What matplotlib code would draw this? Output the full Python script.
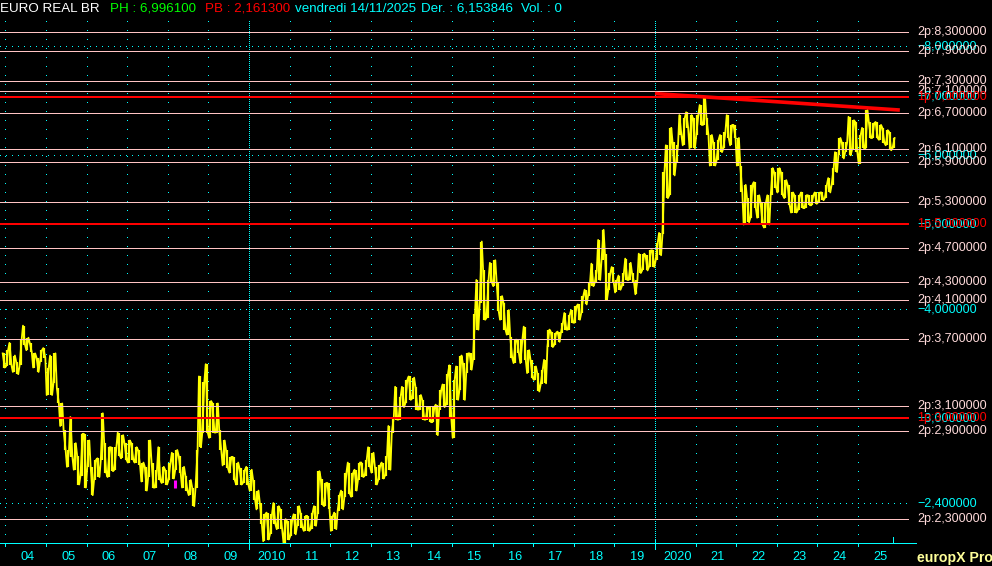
import matplotlib
matplotlib.use("Agg")
import matplotlib.pyplot as plt
import matplotlib.transforms as mtransforms
import numpy as np

W, H = 992, 566
BG = "black"
CYAN = "#00ffff"
YELLOW = "#ffff00"
PINK = "#ffc4c4"
PINK_TXT = "#ffdada"
RED = "#ff0000"
plt.rcParams["font.family"] = ["Liberation Sans", "DejaVu Sans"]

# monthly high / low of EUR/BRL, first month = Dec 2003
START = 2003 + 11 / 12
high = [3.56,
        3.59, 3.66, 3.54, 3.48, 3.69, 3.83, 3.71, 3.66, 3.56, 3.52, 3.59, 3.61,   # 2004
        3.43, 3.54, 3.56, 3.25, 3.12, 2.91, 2.76, 3.01, 2.81, 2.72, 2.88, 2.88,   # 2005
        2.83, 2.64, 2.69, 2.70, 3.04, 2.81, 2.78, 2.78, 2.78, 2.89, 2.87, 2.81,   # 2006
        2.83, 2.81, 2.78, 2.76, 2.67, 2.64, 2.83, 2.67, 2.62, 2.78, 2.64, 2.62,   # 2007
        2.67, 2.74, 2.76, 2.72, 2.64, 2.58, 2.55, 2.50, 2.76, 3.35, 3.30, 3.46,   # 2008
        3.14, 3.12, 3.12, 2.91, 2.83, 2.76, 2.71, 2.71, 2.67, 2.63, 2.62, 2.64,   # 2009
        2.62, 2.55, 2.48, 2.40, 2.33, 2.34, 2.33, 2.40, 2.38, 2.36, 2.30, 2.29,   # 2010
        2.30, 2.33, 2.38, 2.34, 2.32, 2.32, 2.34, 2.38, 2.61, 2.56, 2.53, 2.53,   # 2011
        2.32, 2.34, 2.45, 2.48, 2.60, 2.67, 2.60, 2.62, 2.67, 2.67, 2.69, 2.78,   # 2012
        2.74, 2.64, 2.65, 2.67, 2.72, 2.94, 3.01, 3.26, 3.17, 3.26, 3.32, 3.35,   # 2013
        3.34, 3.26, 3.19, 3.15, 3.09, 3.09, 3.09, 3.11, 3.23, 3.28, 3.37, 3.45,   # 2014
        3.32, 3.44, 3.54, 3.47, 3.56, 3.56, 3.95, 4.32, 4.78, 4.43, 4.32, 4.52,   # 2015
        4.55, 4.29, 4.14, 4.07, 3.99, 3.72, 3.69, 3.69, 3.69, 3.82, 3.59, 3.50,   # 2016
        3.44, 3.38, 3.41, 3.50, 3.79, 3.77, 3.76, 3.77, 3.86, 3.96, 3.94, 3.99,   # 2017
        4.03, 4.05, 4.14, 4.21, 4.29, 4.51, 4.43, 4.80, 4.93, 4.63, 4.40, 4.47,   # 2018
        4.32, 4.37, 4.40, 4.57, 4.52, 4.40, 4.32, 4.63, 4.63, 4.61, 4.67, 4.67,   # 2019
        4.76, 4.89, 5.74, 6.16, 6.45, 6.21, 6.16, 6.67, 6.62, 6.72, 6.67, 6.62,   # 2020
        6.67, 6.85, 6.99, 6.62, 6.33, 6.21, 6.25, 6.33, 6.38, 6.67, 6.50, 6.50,   # 2021
        6.28, 5.84, 5.55, 5.36, 5.55, 5.59, 5.40, 5.30, 5.30, 5.40, 5.80, 5.74,   # 2022
        5.80, 5.74, 5.62, 5.55, 5.44, 5.40, 5.40, 5.44, 5.40, 5.40, 5.40, 5.44,   # 2023
        5.44, 5.44, 5.55, 5.65, 5.80, 6.05, 6.28, 6.21, 6.21, 6.64, 6.58, 6.55,   # 2024
        6.33, 6.45, 6.76, 6.55, 6.53, 6.55, 6.50, 6.45, 6.41, 6.38, 6.28]         # 2025
low = [3.43,
       3.44, 3.45, 3.39, 3.37, 3.45, 3.64, 3.59, 3.57, 3.43, 3.39, 3.48, 3.52,
       3.19, 3.19, 3.29, 3.12, 2.94, 2.76, 2.64, 2.71, 2.62, 2.52, 2.58, 2.50,
       2.64, 2.45, 2.55, 2.57, 2.69, 2.60, 2.57, 2.61, 2.62, 2.72, 2.70, 2.69,
       2.67, 2.69, 2.67, 2.65, 2.54, 2.48, 2.57, 2.50, 2.50, 2.55, 2.53, 2.52,
       2.55, 2.56, 2.62, 2.60, 2.50, 2.48, 2.45, 2.38, 2.50, 2.78, 2.89, 2.89,
       2.85, 2.89, 2.89, 2.76, 2.65, 2.63, 2.60, 2.55, 2.52, 2.52, 2.53, 2.52,
       2.48, 2.42, 2.36, 2.27, 2.17, 2.18, 2.21, 2.27, 2.24, 2.24, 2.16, 2.18,
       2.20, 2.21, 2.26, 2.25, 2.23, 2.23, 2.24, 2.26, 2.33, 2.39, 2.38, 2.36,
       2.23, 2.24, 2.35, 2.36, 2.44, 2.46, 2.44, 2.48, 2.55, 2.57, 2.58, 2.64,
       2.60, 2.52, 2.55, 2.56, 2.58, 2.62, 2.89, 2.99, 2.99, 3.09, 3.12, 3.15,
       3.16, 3.07, 3.07, 2.99, 2.99, 2.97, 2.97, 2.87, 3.07, 3.09, 3.11, 3.00,
       2.85, 3.15, 3.23, 3.15, 3.38, 3.41, 3.50, 3.79, 4.07, 3.89, 3.91, 4.29,
       4.25, 3.98, 3.89, 3.79, 3.74, 3.52, 3.47, 3.56, 3.47, 3.50, 3.38, 3.34,
       3.32, 3.22, 3.28, 3.29, 3.62, 3.62, 3.64, 3.67, 3.76, 3.79, 3.79, 3.86,
       3.86, 3.89, 3.96, 4.05, 4.14, 4.25, 4.29, 4.32, 4.55, 4.10, 4.21, 4.29,
       4.18, 4.21, 4.25, 4.32, 4.32, 4.29, 4.16, 4.40, 4.43, 4.43, 4.47, 4.47,
       4.55, 4.61, 4.87, 5.36, 5.40, 5.69, 5.89, 6.33, 6.16, 6.45, 6.11, 6.11,
       6.33, 6.50, 6.50, 6.33, 5.84, 5.84, 5.92, 6.05, 6.11, 6.28, 6.16, 6.28,
       5.84, 5.44, 5.00, 5.03, 5.09, 5.22, 5.09, 5.00, 4.96, 5.00, 5.40, 5.51,
       5.44, 5.40, 5.36, 5.26, 5.16, 5.16, 5.19, 5.22, 5.22, 5.26, 5.26, 5.28,
       5.30, 5.33, 5.36, 5.44, 5.55, 5.74, 6.00, 5.95, 6.05, 6.00, 6.08, 6.05,
       5.87, 6.11, 6.11, 6.28, 6.28, 6.28, 6.25, 6.20, 6.16, 6.08, 6.11]

# price levels drawn by the platform
levels_2p = [8.3, 7.9, 7.3, 7.1, 6.7, 6.1, 5.9, 5.3, 4.7, 4.3, 4.1, 3.7, 3.1, 2.9, 2.3]
levels_1p = [7.0, 5.0, 3.0]
grid_levels = [8.0, 7.0, 6.0, 5.0, 4.0, 3.0, 2.4]
trend_t = [2020.0, 2026.03]
trend_p = [7.06, 6.76]
years = list(range(2004, 2026))
last_date = 2025.87
mark_t, mark_lo, mark_hi = 2008.165, 2.50, 2.55

header = [("EURO REAL BR", "#ffffff", 0), ("PH : 6,996100", "#00ff00", 110),
          ("PB : 2,161300", "#ff0000", 205), ("vendredi 14/11/2025", CYAN, 295),
          ("Der. : 6,153846", CYAN, 421), ("Vol. : 0", CYAN, 521)]


def fmt(v):
    return f"{v:.6f}".replace(".", ",")


fig = plt.figure(figsize=(W / 100, H / 100), dpi=100, facecolor=BG)
L, R, T, B = 0, 909, 20, 543
ax = fig.add_axes([L / W, 1 - B / H, (R - L) / W, (B - T) / H])
ax.set_facecolor(BG)
ax.set_yscale("log")
ax.set_xlim(2003.867, 2026.256)
ax.set_ylim(2.160, 8.57)
for s in ax.spines.values():
    s.set_visible(False)
ax.tick_params(which="both", left=False, bottom=False, labelleft=False, labelbottom=False)
px = 0.72  # one pixel in points
xa = mtransforms.blended_transform_factory(ax.transData, ax.transAxes)
ya = mtransforms.blended_transform_factory(ax.transAxes, ax.transData)

# dotted grid (crisp, not antialiased, like the platform)
for y in years:
    dense = y in (2010, 2020)
    ax.axvline(y, color=CYAN, lw=px, ls=(0, (1, 2) if dense else (1, 9)), zorder=1,
               antialiased=False)
for g in grid_levels:
    ax.axhline(g, color=CYAN, lw=px, ls=(0, (1, 5.5)), zorder=1, antialiased=False)
    ax.text(917 / 909, g, "\u2212" + fmt(g), transform=ya, color=CYAN, fontsize=9,
            va="center", ha="left", clip_on=False, zorder=5)

# price series
hi = np.array(high)
lo = np.array(low)
n = len(hi)
t = START + np.arange(n) / 12
even = np.arange(n) % 2 == 0
xs = np.repeat(t, 2) + np.tile([0.2 / 12, 0.8 / 12], n)
vals = np.empty(2 * n)
vals[0::2] = np.where(even, hi, lo)
vals[1::2] = np.where(even, lo, hi)
ax.vlines(t + 0.5 / 12, lo, hi, color=YELLOW, lw=1.6, zorder=2)
ax.plot(xs, vals, color=YELLOW, lw=1.3, zorder=2)
ax.vlines(mark_t, mark_lo, mark_hi, color="#ff00ff", lw=2.2, zorder=3)

# horizontal levels
for v in levels_2p:
    ax.axhline(v, color=PINK, lw=px, zorder=3, antialiased=False)
    ax.text(917 / 909, v, "2p:" + fmt(v), transform=ya, color=PINK_TXT, fontsize=9,
            va="center", ha="left", clip_on=False, zorder=6)
for v in levels_1p:
    ax.axhline(v, color=RED, lw=1.4, zorder=3, antialiased=False)
    ax.text(917 / 909, v, "1p:" + fmt(v), transform=ya, color=RED, fontsize=9,
            va="center", ha="left", clip_on=False, zorder=7)

ax.plot(trend_t, trend_p, color=RED, lw=2.6, solid_capstyle="butt", zorder=4)

# time axis
ax.plot([0, 916 / 909], [0, 0], transform=ax.transAxes, color=CYAN, lw=px,
        clip_on=False, antialiased=False)
for y in years:
    big = y in (2010, 2020)
    ax.plot([y, y], [3 / 523 if big else 0, -(6 if big else 2.5) / 523], transform=xa,
            color=CYAN, lw=px, clip_on=False, antialiased=False)
    lab = str(y) if big else f"{y % 100:02d}"
    ax.text(y + 0.55, -14 / 523, lab, transform=xa, color=CYAN, fontsize=9.2,
            ha="center", va="center", clip_on=False)
ax.plot([last_date, last_date], [0, 6 / 523], transform=xa, color=CYAN, lw=px,
        clip_on=False, antialiased=False)

for txt, col, x0 in header:
    fig.text(x0 / W, 1 - 8.5 / H, txt, color=col, fontsize=9.6, ha="left", va="center")
fig.text(917 / W, 1 - 558 / H, "europX Pro", color="#ffff99", fontsize=10.2,
         fontweight="bold", ha="left", va="center")

fig.savefig("out.png", dpi=100, facecolor=BG)
